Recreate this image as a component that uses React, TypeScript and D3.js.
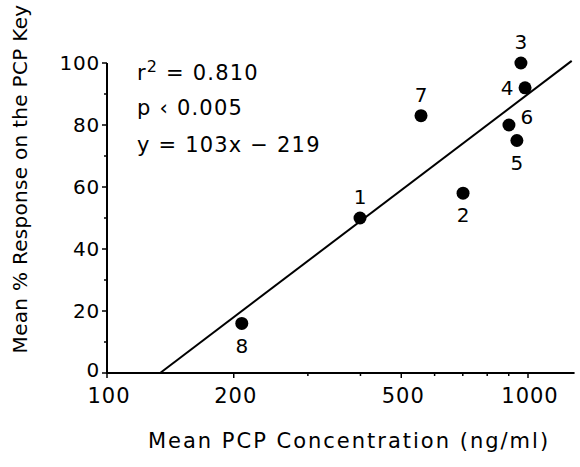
import * as d3 from "d3";
import React from "react";

// PCP concentration (ng/ml) vs mean % response, subjects 1-8
const ids = ["1", "2", "3", "4", "5", "6", "7", "8"];
const concentration = [399, 701, 962, 984, 941, 901, 557, 209];
const response = [50, 58, 100, 92, 75, 80, 83, 16];
const labelSide = ["above", "below", "above", "left", "below", "right", "above", "below"];

const yTicks = [0, 20, 40, 60, 80, 100];
const yMinor = [10, 30, 50, 70, 90];
const xTicks = [100, 200, 500, 1000];
const xMinor = [300, 400, 600, 700, 800, 900];

// regression: y = 103 log10(x) - 219
const slope = 103;
const intercept = -219;
const fitEnd = 1270;
const stats = ["r² = 0.810", "p ‹ 0.005", "y = 103x − 219"];

const W = 580;
const H = 467;
const font = "DejaVu Sans, sans-serif";

export default function App() {
  const x = d3.scaleLog().domain([100, 1000]).range([107, 528]);
  const y = d3.scaleLinear().domain([0, 100]).range([373, 63]);
  const xEnd = 1290;

  const fitStart = Math.pow(10, -intercept / slope);
  const fitLine = d3
    .line<number>()
    .x((c) => x(c))
    .y((c) => y(slope * Math.log10(c) + intercept));

  const offset = (side: string) => {
    if (side === "above") return [0, -21];
    if (side === "below") return [0, 22];
    if (side === "left") return [-18, 0];
    return [18, -8];
  };

  return (
    <svg
      width={W}
      height={H}
      style={{ position: "absolute", left: 0, top: 0, background: "#fff" }}
      fontFamily={font}
    >
      {/* axes */}
      <line x1={x(100)} x2={x(100)} y1={y(0)} y2={y(100)} stroke="#000" strokeWidth={2} />
      <line x1={x(100) - 1} x2={x(xEnd)} y1={y(0)} y2={y(0)} stroke="#000" strokeWidth={2} />

      {yTicks.map((t) => (
        <g key={"yt" + t}>
          <line x1={x(100) - 5} x2={x(100)} y1={y(t)} y2={y(t)} stroke="#000" strokeWidth={1.5} />
          <text
            x={x(100) - 7}
            y={y(t)}
            dy={t === 0 ? "0.22em" : "0.36em"}
            textAnchor="end"
            fontSize={20}
            letterSpacing={0.8}
          >
            {t}
          </text>
        </g>
      ))}
      {yMinor.map((t) => (
        <line key={"ym" + t} x1={x(100) - 3} x2={x(100)} y1={y(t)} y2={y(t)} stroke="#000" strokeWidth={1.5} />
      ))}

      {xTicks.map((t) => (
        <g key={"xt" + t}>
          <line x1={x(t)} x2={x(t)} y1={y(0)} y2={y(0) + 5} stroke="#000" strokeWidth={1.5} />
          <text x={x(t) + 2} y={y(0) + 30} textAnchor="middle" fontSize={21} letterSpacing={1}>
            {t}
          </text>
        </g>
      ))}
      {xMinor.map((t) => (
        <line key={"xm" + t} x1={x(t)} x2={x(t)} y1={y(0)} y2={y(0) + 3} stroke="#000" strokeWidth={1.5} />
      ))}

      {/* axis titles */}
      <text x={349} y={448} textAnchor="middle" fontSize={21} letterSpacing={2}>
        Mean PCP Concentration (ng/ml)
      </text>
      <text transform="translate(27,179) rotate(-90)" textAnchor="middle" fontSize={20} letterSpacing={0.3}>
        Mean % Response on the PCP Key
      </text>

      {/* regression line */}
      <path d={fitLine([fitStart, fitEnd]) || ""} fill="none" stroke="#000" strokeWidth={2} />

      {/* points */}
      {ids.map((id, i) => {
        const cx = x(concentration[i]);
        const cy = y(response[i]);
        const [dx, dy] = offset(labelSide[i]);
        return (
          <g key={id}>
            <circle cx={cx} cy={cy} r={6.5} fill="#000" />
            <text x={cx + dx} y={cy + dy} dy="0.36em" textAnchor="middle" fontSize={20}>
              {id}
            </text>
          </g>
        );
      })}

      {/* stats */}
      <text x={137} y={80} fontSize={21} letterSpacing={1.2}>
        r<tspan dy={-8} fontSize={16}>2</tspan>
        <tspan dy={8}> = 0.810</tspan>
      </text>
      <text x={137} y={115} fontSize={21} letterSpacing={1.2}>
        {stats[1]}
      </text>
      <text x={137} y={152} fontSize={21} letterSpacing={1.2}>
        {stats[2]}
      </text>
    </svg>
  );
}
